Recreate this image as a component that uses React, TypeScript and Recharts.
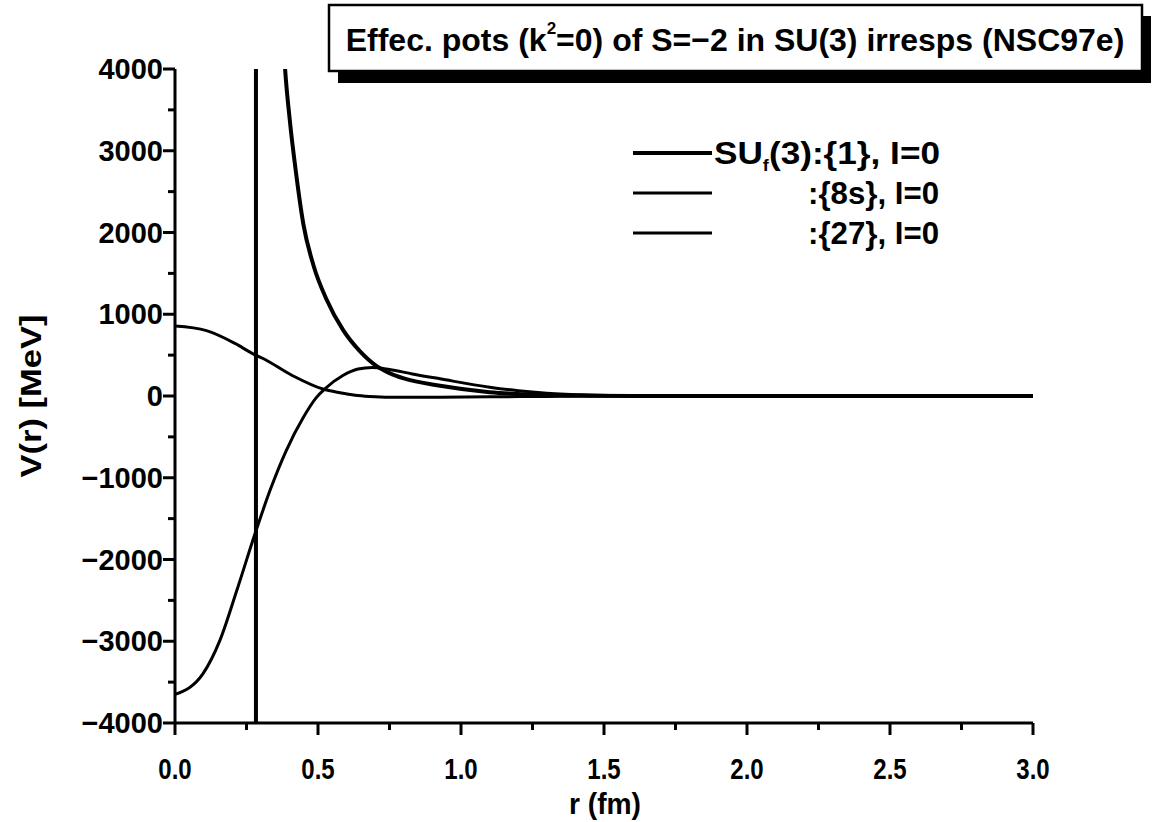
import React from 'react';
import { LineChart, Line, XAxis, YAxis } from 'recharts';

// r in fm, V in MeV
const rSinglet = [0, 0.1, 0.2, 0.25, 0.283, 0.2831, 0.3, 0.34, 0.37, 0.385, 0.4, 0.425, 0.449, 0.484, 0.53, 0.588, 0.647, 0.705, 0.75, 0.8, 0.927, 1.1, 1.276, 1.45, 1.6, 2.0, 2.5, 3.0];
const vSinglet = [-6000, -8000, -14000, -30000, -100000, 100000, 20000, 8000, 5000, 4000, 3420, 2680, 2100, 1600, 1180, 805, 545, 365, 280, 215, 125, 47, 15, 4, 0, 0, 0, 0];

const rOctet = [0, 0.11, 0.21, 0.273, 0.308, 0.41, 0.517, 0.577, 0.63, 0.68, 0.75, 0.9, 1.1, 1.3, 1.6, 2.0, 2.5, 3.0];
const vOctet = [855, 800, 643, 516, 459, 251, 85, 40, 10, -5, -15, -15, -10, -5, 0, 0, 0, 0];

const r27 = [0, 0.098, 0.157, 0.216, 0.28, 0.332, 0.389, 0.449, 0.494, 0.524, 0.587, 0.64, 0.69, 0.75, 0.83, 0.927, 1.1, 1.2, 1.3, 1.45, 1.6, 1.8, 2.0, 2.5, 3.0];
const v27 = [-3650, -3397, -2990, -2380, -1683, -1157, -667, -260, -20, 88, 251, 330, 350, 325, 270, 210, 108, 65, 35, 12, 3, 0, 0, 0, 0];

const xTicks = [0, 0.25, 0.5, 0.75, 1, 1.25, 1.5, 1.75, 2, 2.25, 2.5, 2.75, 3];
const yTicks = [-4000, -3500, -3000, -2500, -2000, -1500, -1000, -500, 0, 500, 1000, 1500, 2000, 2500, 3000, 3500, 4000];

const toPoints = (rs: number[], vs: number[]) => rs.map((r, i) => ({ r, v: vs[i] }));

const singletData = toPoints(rSinglet, vSinglet);
const octetData = toPoints(rOctet, vOctet);
const data27 = toPoints(r27, v27);

const FONT = "'Liberation Sans', Arial, sans-serif";

const XTick = ({ x, y, payload }: any) => {
  const v = payload.value;
  const major = Math.abs(v * 2 - Math.round(v * 2)) < 1e-6;
  return (
    <g>
      <line x1={x} x2={x} y1={y} y2={y + (major ? 12 : 7)} stroke="#000" strokeWidth={3} />
      {major && (
        <text
          transform={`translate(${x},${y + 46}) scale(0.8,1)`}
          textAnchor="middle"
          dominantBaseline="central"
          fontFamily={FONT}
          fontWeight="bold"
          fontSize={30}
          fill="#000"
        >
          {v.toFixed(1)}
        </text>
      )}
    </g>
  );
};

const YTick = ({ x, y, payload }: any) => {
  const v = payload.value;
  const major = v % 1000 === 0;
  return (
    <g>
      <line x1={x} x2={x - (major ? 12 : 7)} y1={y} y2={y} stroke="#000" strokeWidth={3} />
      {major && (
        <text
          x={x - 12}
          y={y}
          textAnchor="end"
          dominantBaseline="central"
          fontFamily={FONT}
          fontWeight="bold"
          fontSize={29}
          fill="#000"
        >
          {v < 0 ? '\u2212' + Math.abs(v) : String(v)}
        </text>
      )}
    </g>
  );
};

const Overlay = () => (
  <svg
    width={1152}
    height={822}
    style={{ position: 'absolute', left: 0, top: 0, pointerEvents: 'none' }}
  >
    {/* title box with drop shadow */}
    <rect x={338} y={16} width={813} height={67} fill="#000" />
    <rect x={329} y={5} width={813} height={66} fill="#fff" stroke="#000" strokeWidth={2.5} />
    <text
      x={735}
      y={40}
      textAnchor="middle"
      dominantBaseline="central"
      fontFamily={FONT}
      fontWeight="bold"
      fontSize={32}
      fill="#000"
    >
      Effec. pots (k<tspan dy={-12} fontSize={17}>2</tspan>
      <tspan dy={12}>=0) of S=&#8722;2 in SU(3) irresps (NSC97e)</tspan>
    </text>

    {/* legend */}
    <line x1={633} x2={712} y1={153} y2={153} stroke="#000" strokeWidth={4} />
    <line x1={633} x2={712} y1={193} y2={193} stroke="#000" strokeWidth={3} />
    <line x1={633} x2={712} y1={233} y2={233} stroke="#000" strokeWidth={3} />
    <g fontFamily={FONT} fontWeight="bold" fontSize={31} fill="#000" style={{ whiteSpace: 'pre' }}>
      <text x={714} y={153} dominantBaseline="central" textLength={226} lengthAdjust="spacingAndGlyphs">
        SU<tspan dy={12} fontSize={16}>f</tspan>
        <tspan dy={-12}>(3):{'{1}'},  I=0</tspan>
      </text>
      <text x={808} y={193} dominantBaseline="central" textLength={131} lengthAdjust="spacingAndGlyphs">
        :{'{8s}'}, I=0
      </text>
      <text x={808} y={233} dominantBaseline="central" textLength={131} lengthAdjust="spacingAndGlyphs">
        :{'{27}'}, I=0
      </text>
    </g>

    {/* axis titles */}
    <text
      transform="translate(30,396) rotate(-90)"
      textAnchor="middle"
      dominantBaseline="central"
      fontFamily={FONT}
      fontWeight="bold"
      fontSize={30}
      textLength={163}
      lengthAdjust="spacingAndGlyphs"
      fill="#000"
    >
      V(r) [MeV]
    </text>
    <text
      x={605}
      y={803}
      textAnchor="middle"
      dominantBaseline="central"
      fontFamily={FONT}
      fontWeight="bold"
      fontSize={30}
      textLength={72}
      lengthAdjust="spacingAndGlyphs"
      fill="#000"
    >
      r (fm)
    </text>
  </svg>
);

export default function App() {
  return (
    <div style={{ position: 'absolute', left: 0, top: 0, width: 1152, height: 822, background: '#fff' }}>
      <LineChart width={1152} height={822} margin={{ top: 69, right: 119, bottom: 0, left: 0 }}>
        <XAxis
          type="number"
          dataKey="r"
          domain={[0, 3]}
          ticks={xTicks}
          interval={0}
          allowDataOverflow
          height={99}
          tickSize={0}
          tickMargin={0}
          tickLine={false}
          axisLine={{ stroke: '#000', strokeWidth: 3 }}
          tick={<XTick />}
        />
        <YAxis
          type="number"
          domain={[-4000, 4000]}
          ticks={yTicks}
          interval={0}
          allowDataOverflow
          width={175}
          tickSize={0}
          tickMargin={0}
          tickLine={false}
          axisLine={{ stroke: '#000', strokeWidth: 3 }}
          tick={<YTick />}
        />
        <Line
          data={singletData}
          dataKey="v"
          type="monotone"
          stroke="#000"
          strokeWidth={4}
          dot={false}
          isAnimationActive={false}
        />
        <Line
          data={octetData}
          dataKey="v"
          type="monotone"
          stroke="#000"
          strokeWidth={3}
          dot={false}
          isAnimationActive={false}
        />
        <Line
          data={data27}
          dataKey="v"
          type="monotone"
          stroke="#000"
          strokeWidth={3}
          dot={false}
          isAnimationActive={false}
        />
      </LineChart>
      <Overlay />
    </div>
  );
}
